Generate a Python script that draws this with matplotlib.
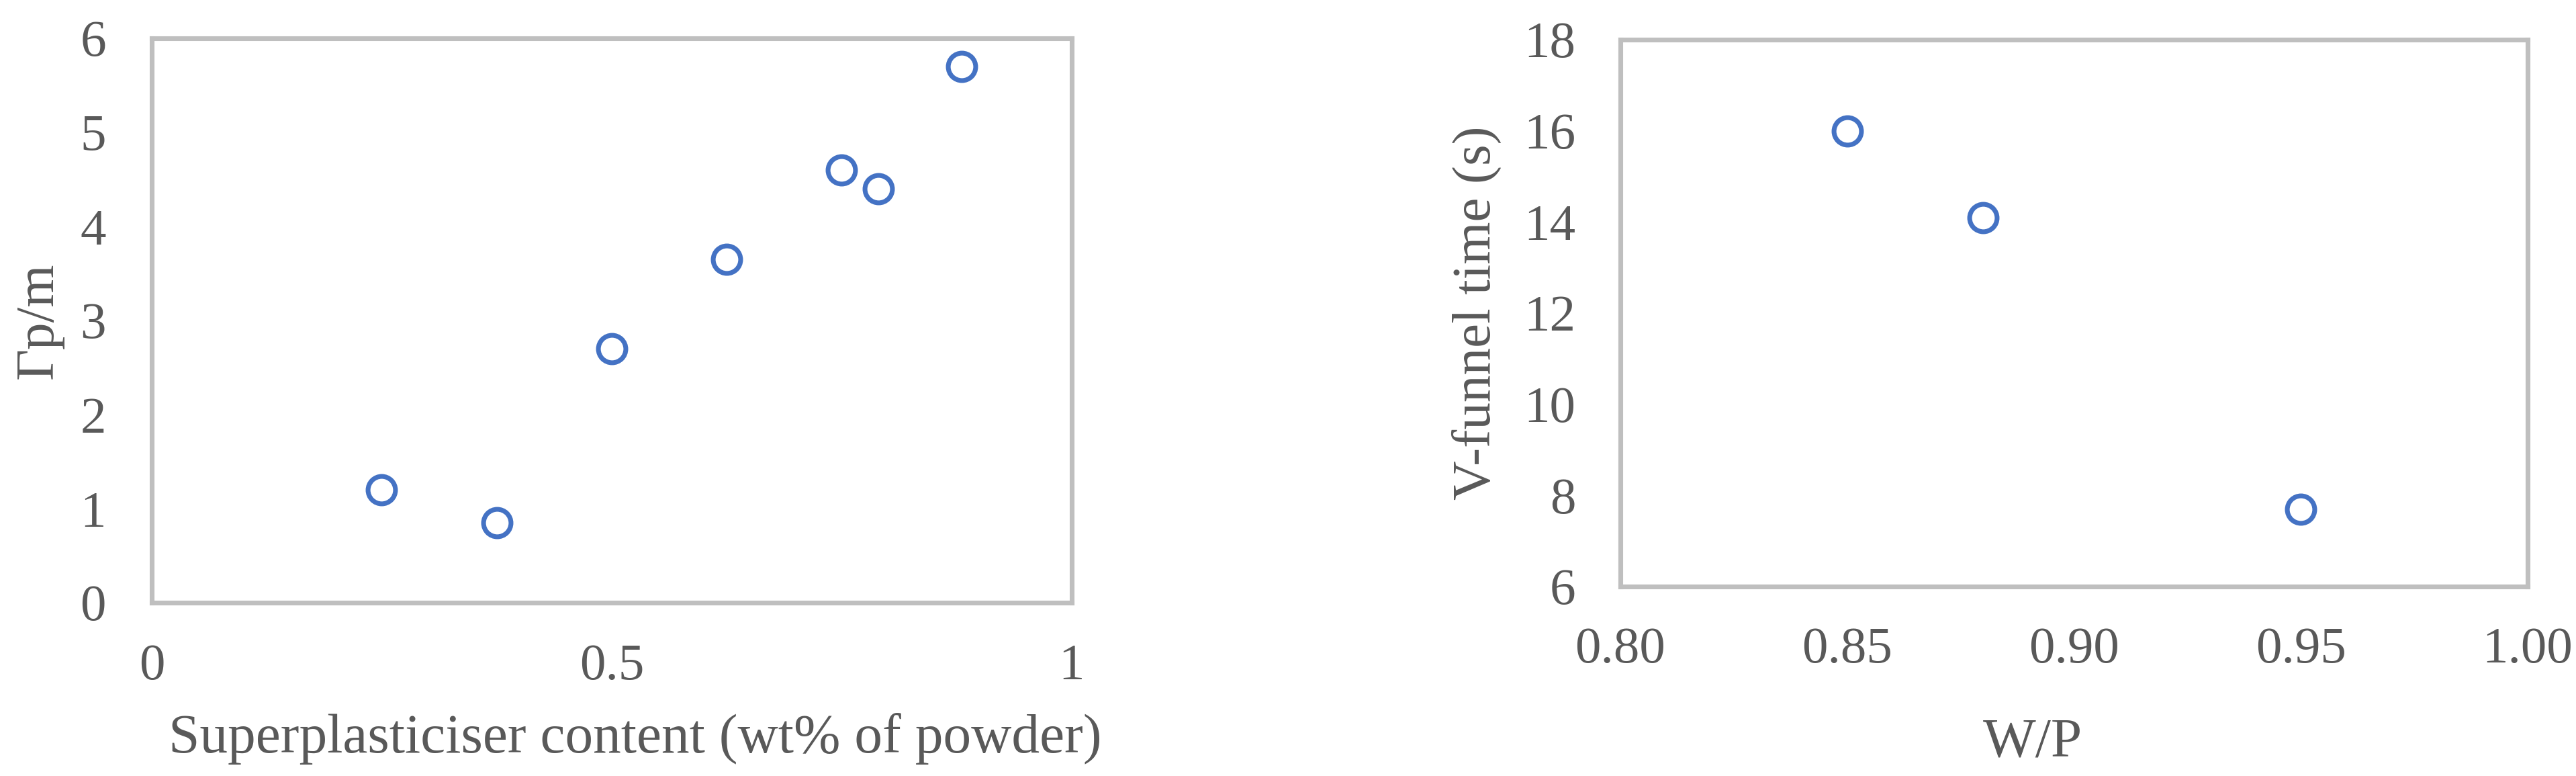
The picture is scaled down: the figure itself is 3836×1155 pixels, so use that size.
import matplotlib
matplotlib.use("Agg")  # headless
import matplotlib.pyplot as plt

# left panel: superplasticiser dosage vs relative flow area
sp_content = [0.25, 0.375, 0.50, 0.625, 0.75, 0.79, 0.88]
gamma_pm = [1.2, 0.85, 2.7, 3.65, 4.6, 4.4, 5.7]

# right panel: water/powder ratio vs V-funnel time
wp_ratio = [0.85, 0.88, 0.95]
vfunnel_s = [16.0, 14.1, 7.7]

left_xticks = [0, 0.5, 1]
left_xticklabels = ["0", "0.5", "1"]
left_yticks = [0, 1, 2, 3, 4, 5, 6]
right_xticks = [0.80, 0.85, 0.90, 0.95, 1.00]
right_yticks = [6, 8, 10, 12, 14, 16, 18]

TEXT = "#595959"
SPINE = "#BFBFBF"
BLUE = "#4472C4"
DPI = 300

plt.rcParams["font.family"] = ["Liberation Serif", "DejaVu Serif"]

fig = plt.figure(figsize=(3837 / DPI, 1155 / DPI), dpi=DPI)
ax1 = fig.add_axes([226 / 3837, 1 - 897 / 1155, 1370 / 3837, 840 / 1155])
ax2 = fig.add_axes([2413 / 3837, 1 - 873 / 1155, 1351 / 3837, 814 / 1155])


def style(ax, xpad, ypad):
    for sp in ax.spines.values():
        sp.set_color(SPINE)
        sp.set_linewidth(1.7)
    ax.tick_params(axis="x", length=0, pad=xpad, labelsize=18.5, labelcolor=TEXT)
    ax.tick_params(axis="y", length=0, pad=ypad, labelsize=18.5, labelcolor=TEXT)


marker_kw = dict(linestyle="none", marker="o", markersize=9.8,
                 markerfacecolor="none", markeredgecolor=BLUE, markeredgewidth=1.7)

ax1.plot(sp_content, gamma_pm, **marker_kw)
ax1.set_xlim(0, 1)
ax1.set_ylim(0, 6)
ax1.set_xticks(left_xticks)
ax1.set_xticklabels(left_xticklabels)
ax1.set_yticks(left_yticks)
style(ax1, 14.6, 16.3)
ax1.set_xlabel("Superplasticiser content (wt% of powder)", fontsize=20, color=TEXT)
ax1.xaxis.set_label_coords(0.5255, -0.195)
ax1.set_ylabel("Γp/m", fontsize=19.5, color=TEXT, labelpad=6)

ax2.plot(wp_ratio, vfunnel_s, **marker_kw)
ax2.set_xlim(0.80, 1.00)
ax2.set_ylim(6, 18)
ax2.set_xticks(right_xticks)
ax2.set_xticklabels([f"{v:.2f}" for v in right_xticks])
ax2.set_yticks(right_yticks)
style(ax2, 14.4, 16.0)
ax2.set_xlabel("W/P", fontsize=20, color=TEXT)
ax2.xaxis.set_label_coords(0.4545, -0.24)
ax2.set_ylabel("V-funnel time (s)", fontsize=19.5, color=TEXT, labelpad=8)

fig.savefig("out.png", dpi=DPI, facecolor="white")
